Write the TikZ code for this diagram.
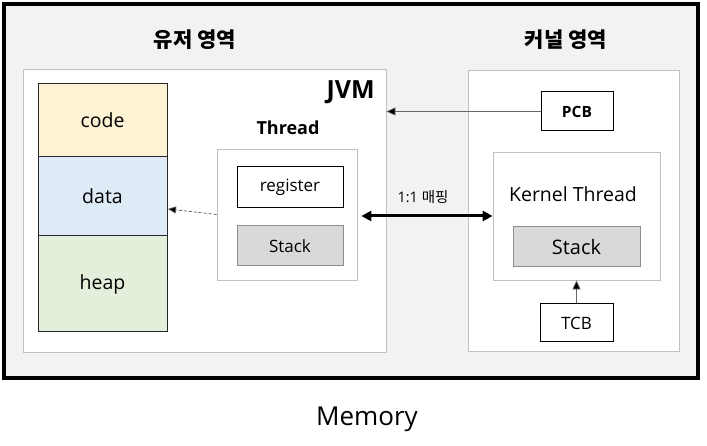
\documentclass[tikz,border=0pt]{standalone}
\usepackage{fontspec}
\setmainfont{Open Sans}
\newfontfamily\kr{Noto Sans CJK KR}
\usetikzlibrary{arrows.meta}
\definecolor{bgray}{HTML}{F2F2F2}
\definecolor{lborder}{HTML}{C0C0C0}
\definecolor{codec}{HTML}{FDF2D3}
\definecolor{datac}{HTML}{DEEBF7}
\definecolor{heapc}{HTML}{E3EFDB}
\definecolor{stackc}{HTML}{D9D9D9}
\definecolor{stackb}{HTML}{8C8C8C}
\tikzset{
  region/.style={draw=lborder, fill=white, line width=0.8pt, inner sep=0pt},
  membox/.style={draw=black!85, line width=1pt, inner sep=0pt, minimum width=129pt, font=\fontsize{19.5}{21}\selectfont},
  whitebox/.style={draw=black, fill=white, line width=1pt, inner sep=0pt},
  stackbox/.style={draw=stackb, fill=stackc, line width=1pt, inner sep=0pt},
  lbl/.style={inner sep=0pt},
}
\begin{document}
\begin{tikzpicture}[x=1pt,y=-1pt]
\useasboundingbox[fill=white] (0,0) rectangle (707,446);
% outer memory frame
\node[draw=black, fill=bgray, line width=4pt, minimum width=694pt, minimum height=374pt, inner sep=0pt] (outer) at (351,191) {};
% headings
\node[lbl, font=\kr\fontsize{21}{23}\selectfont\bfseries] (uh) at (195,40) {유저 영역};
\node[lbl, font=\kr\fontsize{21}{23}\selectfont\bfseries] (kh) at (566,40) {커널 영역};
\node[lbl, font=\fontsize{26}{28}\selectfont] (mem) at (367,419) {Memory};
% JVM region
\node[region, minimum width=363pt, minimum height=283pt] (jvm) at (204.5,210.5) {};
\node[lbl, anchor=east, font=\fontsize{25}{27}\selectfont\bfseries] (jvmlbl) at (375,92) {JVM};
% memory column
\node[membox, fill=codec, minimum height=73pt] (code) at (102.5,120.5) {code};
\node[membox, fill=datac, minimum height=79pt] (data) at (102.5,196.5) {data};
\node[membox, fill=heapc, minimum height=96pt] (heap) at (102.5,284) {heap};
% thread
\node[lbl, font=\fontsize{18}{20}\selectfont\bfseries] (thlbl) at (288,128) {Thread};
\node[whitebox, draw=lborder, line width=0.8pt, minimum width=140pt, minimum height=131pt] (thread) at (287,214.5) {};
\node[whitebox, minimum width=106pt, minimum height=41pt, font=\fontsize{17}{19}\selectfont] (reg) at (290,187.5) {register};
\node[stackbox, minimum width=106pt, minimum height=40pt, font=\fontsize{17}{19}\selectfont] (stk) at (290,246) {Stack};
% kernel region
\node[region, minimum width=211pt, minimum height=281pt] (kern) at (573.5,210.5) {};
\node[whitebox, minimum width=72pt, minimum height=39pt, font=\fontsize{15.5}{17}\selectfont\bfseries] (pcb) at (577,111.5) {PCB};
\node[region, minimum width=167pt, minimum height=128pt] (kthread) at (576.5,216) {};
\node[lbl, font=\fontsize{19.5}{21}\selectfont] (ktlbl) at (573,194) {Kernel Thread};
\node[stackbox, minimum width=127pt, minimum height=40pt, font=\fontsize{20}{22}\selectfont] (kstk) at (576.5,247) {Stack};
\node[whitebox, minimum width=73pt, minimum height=38pt, font=\fontsize{17}{19}\selectfont] (tcb) at (576.5,323) {TCB};
% connectors
\coordinate (dtip) at (168,209);
\draw[black!65, line width=0.7pt, dash pattern=on 3pt off 2pt, -{Triangle[length=8pt,width=7pt,fill=black]}] (thread.west) -- (dtip);
\draw[black!60, line width=0.7pt, -{Triangle[length=9pt,width=8pt,fill=black]}] (pcb.west) -- (pcb.west -| jvm.east);
\draw[black, line width=3pt, {Triangle[length=10pt,width=10pt]}-{Triangle[length=10pt,width=10pt]}, shorten <=4pt] (thread.east |- kthread.west) -- (kthread.west);
\node[lbl, font=\fontsize{14.5}{16}\selectfont] (map) at (423,197) {1:1 {\kr 매핑}};
\draw[black!60, line width=0.7pt, -{Triangle[length=9pt,width=8pt,fill=black]}] (tcb.north) -- (kthread.south);
\end{tikzpicture}
\end{document}
